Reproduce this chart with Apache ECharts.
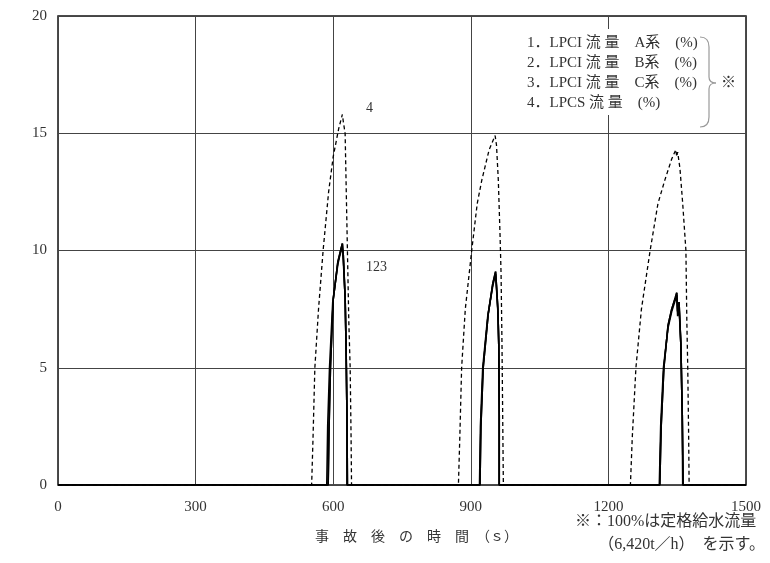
<!DOCTYPE html>
<html lang="ja">
<head>
<meta charset="UTF-8">
<title>LPCI / LPCS 流量</title>
<script src="https://cdn.jsdelivr.net/npm/echarts@6/dist/echarts.min.js"></script>
</head>
<body style="margin:0">
<div id="main" style="width:770px;height:563px"></div>
<script>
var xTicks = [0, 300, 600, 900, 1200, 1500];
var yTicks = [0, 5, 10, 15, 20];
var legendLines = ['1．LPCI 流 量　A系　(%)', '2．LPCI 流 量　B系　(%)', '3．LPCI 流 量　C系　(%)', '4．LPCS 流 量　(%)'];

// [時間 s, 流量 %]
var lpcs = [
    [0, 0], [553, 0], [556, 2], [560, 5], [568, 7.5], [578, 10], [590, 12.5], [600, 14], [612, 15.2], [620, 15.8],
    [622, 15.5], [626, 15], [629, 12], [631, 10], [634, 7], [637, 5], [639, 2], [640, 0],
    [873, 0], [876, 2], [880, 5], [888, 7.5], [902, 10], [914, 12], [924, 13], [940, 14.3], [953, 14.9],
    [956, 14.5], [960, 13], [964, 10.5], [966, 9], [968, 6], [969, 4], [971, 0],
    [1248, 0], [1252, 2], [1260, 5], [1272, 7.5], [1291, 10], [1308, 12], [1323, 13], [1338, 13.9], [1347, 14.3],
    [1349, 14], [1351, 14.2], [1356, 13.5], [1362, 12], [1369, 10], [1371, 7], [1373, 5], [1375, 2], [1376, 0],
    [1500, 0]
];
var lpciA = [
    [0, 0], [589, 0], [591, 2.5], [594, 5], [600, 7.9], [610, 9.5], [620, 10.3], [622, 9.8], [626, 8], [628, 6], [630, 3], [631, 0],
    [920, 0], [922, 2.5], [927, 5], [938, 7.3], [948, 8.6], [954, 9.1], [956, 8.5], [959, 7.5], [961, 6], [962, 3], [962, 0],
    [1312, 0], [1315, 2.5], [1321, 5], [1330, 6.8], [1338, 7.5], [1346, 8], [1349, 8.2], [1351, 7.4], [1354, 7.8], [1358, 6], [1361, 3], [1363, 0],
    [1500, 0]
];
var lpciB = [
    [0, 0], [586, 0], [588, 2.5], [592, 5], [599, 7.8], [610, 9.4], [619, 10.2], [622, 9.6], [626, 8], [628, 6], [630, 3], [630, 0],
    [919, 0], [921, 2.5], [926, 5], [937, 7.2], [948, 8.5], [954, 9.0], [956, 8.4], [959, 7.4], [961, 6], [962, 3], [962, 0],
    [1311, 0], [1314, 2.5], [1320, 5], [1330, 6.7], [1338, 7.4], [1346, 7.9], [1349, 8.1], [1351, 7.2], [1354, 7.6], [1358, 6], [1361, 3], [1362, 0],
    [1500, 0]
];
var lpciC = [
    [0, 0], [589, 0], [591, 2.5], [594, 5], [600, 7.9], [610, 9.5], [620, 10.3], [622, 9.8], [626, 8], [628, 6], [630, 3], [631, 0],
    [920, 0], [922, 2.5], [927, 5], [938, 7.3], [948, 8.6], [954, 9.1], [956, 8.5], [959, 7.5], [961, 6], [962, 3], [962, 0],
    [1312, 0], [1315, 2.5], [1321, 5], [1330, 6.8], [1338, 7.5], [1346, 8], [1349, 8.2], [1351, 7.4], [1354, 7.8], [1358, 6], [1361, 3], [1363, 0],
    [1500, 0]
];

var font = "'Liberation Serif', 'Noto Sans CJK JP', serif";

function flowLine(name, data, dashed) {
    return {
        name: name,
        type: 'line',
        data: data,
        symbol: 'none',
        smooth: false,
        animation: false,
        lineStyle: {color: '#000', width: dashed ? 1.3 : 1.6, type: dashed ? [4, 3] : 'solid'}
    };
}

var braceStyle = {fill: 'none', stroke: '#999', lineWidth: 1.2};
var braceParts = [
    {type: 'bezierCurve', shape: {x1: 700, y1: 37, x2: 709, y2: 47, cpx1: 709, cpy1: 37}},
    {type: 'line', shape: {x1: 709, y1: 47, x2: 709, y2: 77}},
    {type: 'bezierCurve', shape: {x1: 709, y1: 77, x2: 716, y2: 83, cpx1: 709, cpy1: 83}},
    {type: 'bezierCurve', shape: {x1: 716, y1: 83, x2: 709, y2: 89, cpx1: 709, cpy1: 83}},
    {type: 'line', shape: {x1: 709, y1: 89, x2: 709, y2: 117}},
    {type: 'bezierCurve', shape: {x1: 709, y1: 117, x2: 700, y2: 127, cpx1: 709, cpy1: 127}}
].map(function (p) { p.style = braceStyle; p.z = 11; return p; });

var legendText = legendLines.map(function (t, i) {
    return {type: 'text', x: 527, y: 43 + i * 20, z: 11,
        style: {text: t, font: '15px ' + font, fill: '#333', verticalAlign: 'middle'}};
});

var option = {
    backgroundColor: '#fff',
    animation: false,
    grid: {left: 58, right: 24, top: 16, bottom: 78, show: true, borderColor: '#111', borderWidth: 1.5},
    xAxis: {
        type: 'value', min: xTicks[0], max: xTicks[xTicks.length - 1], interval: 300,
        axisLine: {show: false}, axisTick: {show: false},
        axisLabel: {color: '#333', fontSize: 15, fontFamily: font, margin: 15,
            formatter: function (v) { return String(v); }},
        splitLine: {lineStyle: {color: '#444', width: 1}}
    },
    yAxis: {
        type: 'value', min: yTicks[0], max: yTicks[yTicks.length - 1], interval: 5,
        axisLine: {show: false}, axisTick: {show: false},
        axisLabel: {color: '#333', fontSize: 15, fontFamily: font, margin: 11},
        splitLine: {lineStyle: {color: '#444', width: 1}}
    },
    series: [
        flowLine('LPCI流量 A系', lpciA, false),
        flowLine('LPCI流量 B系', lpciB, false),
        flowLine('LPCI流量 C系', lpciC, false),
        flowLine('LPCS流量', lpcs, true)
    ],
    graphic: [
        {type: 'rect', shape: {x: 500, y: 29, width: 244, height: 86}, style: {fill: '#fff'}, z: 10},
        {type: 'text', x: 721, y: 83, z: 11, style: {text: '※', font: '15px ' + font, fill: '#333', verticalAlign: 'middle'}},
        {type: 'text', x: 366, y: 101, z: 11, style: {text: '4', font: '14px ' + font, fill: '#333'}},
        {type: 'text', x: 366, y: 260, z: 11, style: {text: '123', font: '14px ' + font, fill: '#333'}},
        {type: 'text', x: 315, y: 537, z: 11, style: {text: '事　故　後　の　時　間　（ｓ）', font: '14px ' + font, fill: '#333', verticalAlign: 'middle'}},
        {type: 'text', x: 575, y: 522, z: 11, style: {text: '※：100%は定格給水流量', font: '16px ' + font, fill: '#333', verticalAlign: 'middle'}},
        {type: 'text', x: 765, y: 545, z: 11, style: {text: '（6,420t／h）　を示す。', font: '16px ' + font, fill: '#333', align: 'right', verticalAlign: 'middle'}}
    ].concat(braceParts, legendText)
};

var myChart = echarts.init(document.getElementById('main'));
myChart.setOption(option);
</script>
</body>
</html>
